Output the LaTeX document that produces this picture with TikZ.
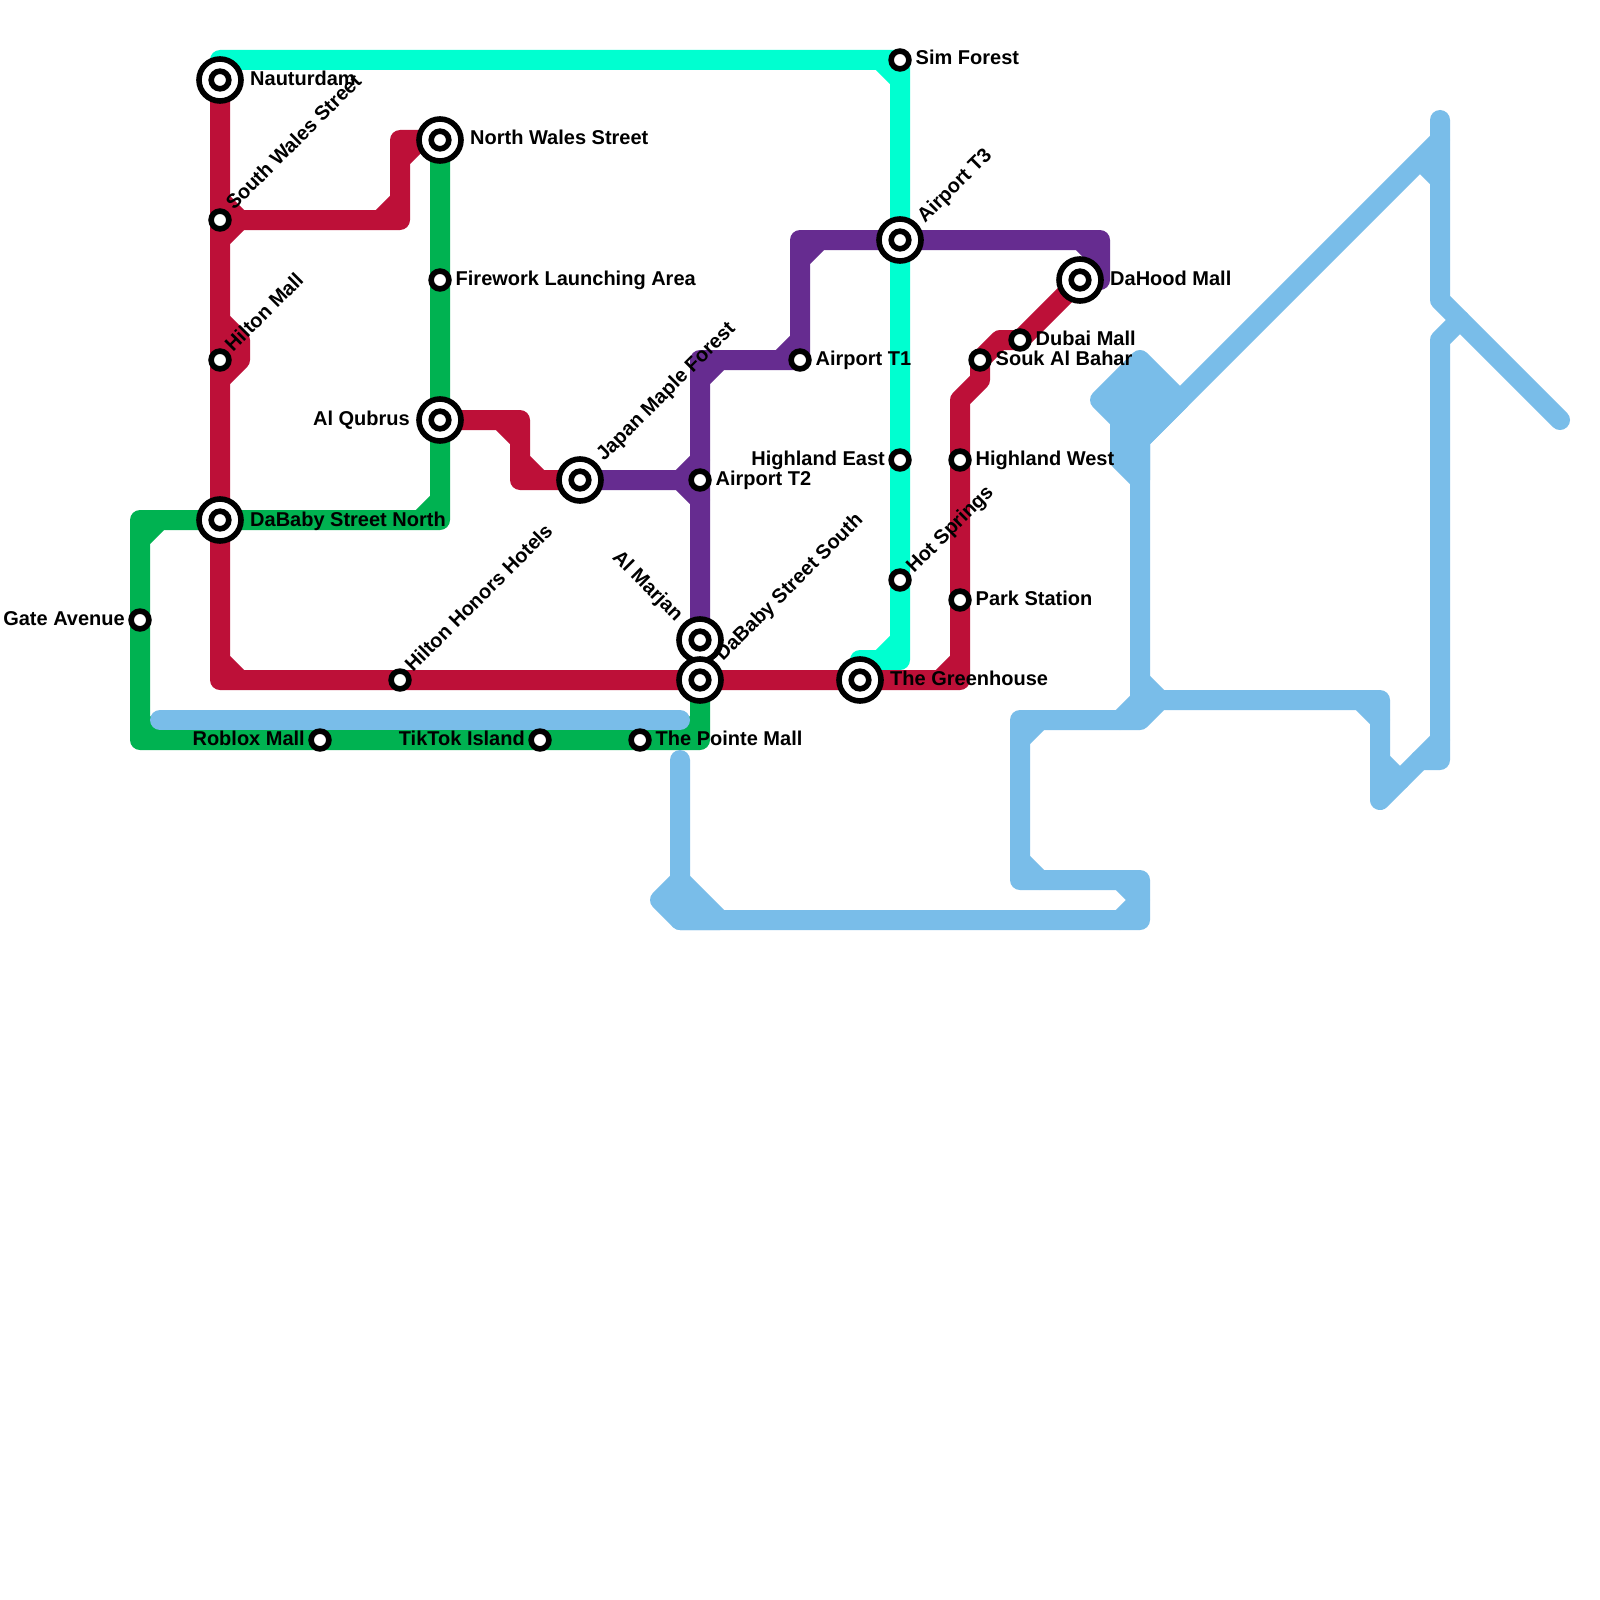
\documentclass[tikz,border=0pt]{standalone}
\usepackage{fontspec}
\setmainfont{Liberation Sans}
\usetikzlibrary{backgrounds}
\definecolor{lred}{HTML}{BD1038}
\definecolor{lgreen}{HTML}{00B251}
\definecolor{lteal}{HTML}{00FFD0}
\definecolor{lpurple}{HTML}{662C90}
\definecolor{lblue}{HTML}{79BDE9}
\tikzset{
  metro/.style={line width=20pt,line cap=round,line join=round},
  stopnode/.style={circle,draw=black,fill=white,line width=5.6pt,minimum size=17.8pt,inner sep=0pt},
  hubnode/.style={circle,draw=black,fill=white,line width=5.6pt,minimum size=42pt,inner sep=0pt,
    path picture={\draw[black,line width=5.6pt] (path picture bounding box.center) circle (8.8pt);}},
  lbl/.style={font=\bfseries\fontsize{20}{22}\selectfont,inner sep=0pt,text=black},
  lr/.style={lbl,anchor=base west},
  ll/.style={lbl,anchor=base east},
  ld/.style={lbl,anchor=base west,rotate=45},
  lu/.style={lbl,anchor=base east,rotate=-45}
}
\begin{document}
\begin{tikzpicture}[x=1pt,y=-1pt]
\useasboundingbox (0,0) rectangle (1600,1600);
% stations
\node[hubnode] (nauturdam) at (220,80) {};
\node[stopnode] (southwales) at (220,220) {};
\node[stopnode] (hilton) at (220,360) {};
\node[hubnode] (dababyn) at (220,520) {};
\node[stopnode] (gate) at (140,620) {};
\node[stopnode] (roblox) at (320,740) {};
\node[stopnode] (tiktok) at (540,740) {};
\node[stopnode] (pointe) at (640,740) {};
\node[stopnode] (honors) at (400,680) {};
\node[hubnode] (marjan) at (700,640) {};
\node[hubnode] (dababys) at (700,680) {};
\node[hubnode] (greenhouse) at (860,680) {};
\node[stopnode] (park) at (960,600) {};
\node[stopnode] (hwest) at (960,460) {};
\node[stopnode] (souk) at (980,360) {};
\node[stopnode] (dubai) at (1020,340) {};
\node[hubnode] (dahood) at (1080,280) {};
\node[hubnode] (northwales) at (440,140) {};
\node[stopnode] (firework) at (440,280) {};
\node[hubnode] (alqubrus) at (440,420) {};
\node[hubnode] (japan) at (580,480) {};
\node[stopnode] (t2) at (700,480) {};
\node[stopnode] (t1) at (800,360) {};
\node[hubnode] (t3) at (900,240) {};
\node[stopnode] (sim) at (900,60) {};
\node[stopnode] (heast) at (900,460) {};
\node[stopnode] (hot) at (900,580) {};
% lines
\begin{scope}[on background layer]
\fill[white] (0,0) rectangle (1600,1600);
\draw[metro,lgreen] (northwales.center) -- (firework.center) -- (alqubrus.center) -- (440,520) -- (dababyn.center) -- (140,520) -- (gate.center) -- (140,740) -- (roblox.center) -- (tiktok.center) -- (pointe.center) -- (700,740) -- (dababys.center)
  (420,520) -- (440,500) (140,540) -- (160,520) (140,720) -- (160,740) (680,740) -- (700,720);
\draw[metro,lteal] (220,60) -- (sim.center) -- (t3.center) -- (heast.center) -- (hot.center) -- (900,660) -- (860,660)
  (880,60) -- (900,80) (880,660) -- (900,640);
\draw[metro,lred] (nauturdam.center) -- (southwales.center) -- (hilton.center) -- (dababyn.center) -- (220,680) -- (honors.center) -- (dababys.center) -- (greenhouse.center) -- (960,680) -- (park.center) -- (hwest.center) -- (960,400) -- (980,380) -- (souk.center) -- (1000,340) -- (dubai.center) -- (dahood.center)
  (220,660) -- (240,680) (940,680) -- (960,660)
  (220,200) -- (240,220) (220,240) -- (240,220);
\draw[metro,lred] (southwales.center) -- (400,220) -- (400,140) -- (northwales.center)
  (380,220) -- (400,200) (400,160) -- (420,140);
\draw[metro,lred,fill=lred] (220,320) -- (240,340) -- (240,360) -- (220,380) -- cycle;
\draw[metro,lred] (alqubrus.center) -- (520,420) -- (520,480) -- (japan.center)
  (500,420) -- (520,440) (520,460) -- (540,480);
\draw[metro,lpurple] (japan.center) -- (t2.center) (680,480) -- (700,460) (680,480) -- (700,500);
\draw[metro,lpurple] (marjan.center) -- (t2.center) -- (700,360) -- (t1.center) -- (800,240) -- (t3.center) -- (1100,240) -- (1100,280) -- (dahood.center)
  (700,380) -- (720,360) (780,360) -- (800,340) (800,260) -- (820,240) (1080,240) -- (1100,260);
% blue
\draw[metro,lblue] (160,720) -- (680,720);
\draw[metro,lblue] (680,760) -- (680,920) -- (1140,920) -- (1140,880) -- (1020,880) -- (1020,720) -- (1140,720) -- (1160,700) -- (1380,700) -- (1380,800) -- (1440,740);
\draw[metro,lblue,fill=lblue] (660,900) -- (680,880) -- (720,920) -- (680,920) -- cycle;
\draw[metro,lblue] (1120,880) -- (1140,900) -- (1120,920)
  (1020,860) -- (1040,880) (1020,740) -- (1040,720)
  (1120,720) -- (1140,700) (1140,680) -- (1160,700)
  (1360,700) -- (1380,720) (1380,760) -- (1400,780);
\draw[metro,lblue] (1420,760) -- (1440,760) -- (1440,340) -- (1460,320);
\draw[metro,lblue] (1440,120) -- (1440,300) -- (1560,420);
\draw[metro,lblue] (1440,140) -- (1140,440) -- (1140,700) (1420,160) -- (1440,180);
\draw[metro,lblue,fill=lblue] (1140,360) -- (1180,400) -- (1140,440) -- (1140,480) -- (1120,460) -- (1120,420) -- (1100,400) -- cycle;
\end{scope}
% labels
\node[lr] (lnauturdam) at (250,86) {Nauturdam};
\node[ld] (lsouthwales) at (234,211) {South Wales Street};
\node[ld] (lhilton) at (233,353) {Hilton Mall};
\node[lr] (ldababyn) at (250,526) {DaBaby Street North};
\node[ll] (lgate) at (125,625) {Gate Avenue};
\node[ll] (lroblox) at (305,745) {Roblox Mall};
\node[ll] (ltiktok) at (525,745) {TikTok Island};
\node[lr] (lpointe) at (655.5,745) {The Pointe Mall};
\node[ld] (lhonors) at (413,673) {Hilton Honors Hotels};
\node[lu] (lmarjan) at (675.5,622.5) {Al Marjan};
\node[ld] (ldababys) at (723,662) {DaBaby Street South};
\node[lr] (lgreenhouse) at (890,685) {The Greenhouse};
\node[lr] (lpark) at (975.5,605) {Park Station};
\node[lr] (lhwest) at (975.5,465) {Highland West};
\node[lr] (lsouk) at (995.5,365) {Souk Al Bahar};
\node[lr] (ldubai) at (1035.5,345) {Dubai Mall};
\node[lr] (ldahood) at (1110,285) {DaHood Mall};
\node[lr] (lnorthwales) at (470,145) {North Wales Street};
\node[lr] (lfirework) at (455.5,285) {Firework Launching Area};
\node[ll] (lalqubrus) at (410,425) {Al Qubrus};
\node[ld] (ljapan) at (604,462) {Japan Maple Forest};
\node[lr] (lt2) at (715.5,485) {Airport T2};
\node[lr] (lt1) at (815.5,365) {Airport T1};
\node[ld] (lt3) at (925,224) {Airport T3};
\node[lr] (lsim) at (915.5,65) {Sim Forest};
\node[ll] (lheast) at (885,465) {Highland East};
\node[ld] (lhot) at (914,574) {Hot Springs};
\end{tikzpicture}
\end{document}
